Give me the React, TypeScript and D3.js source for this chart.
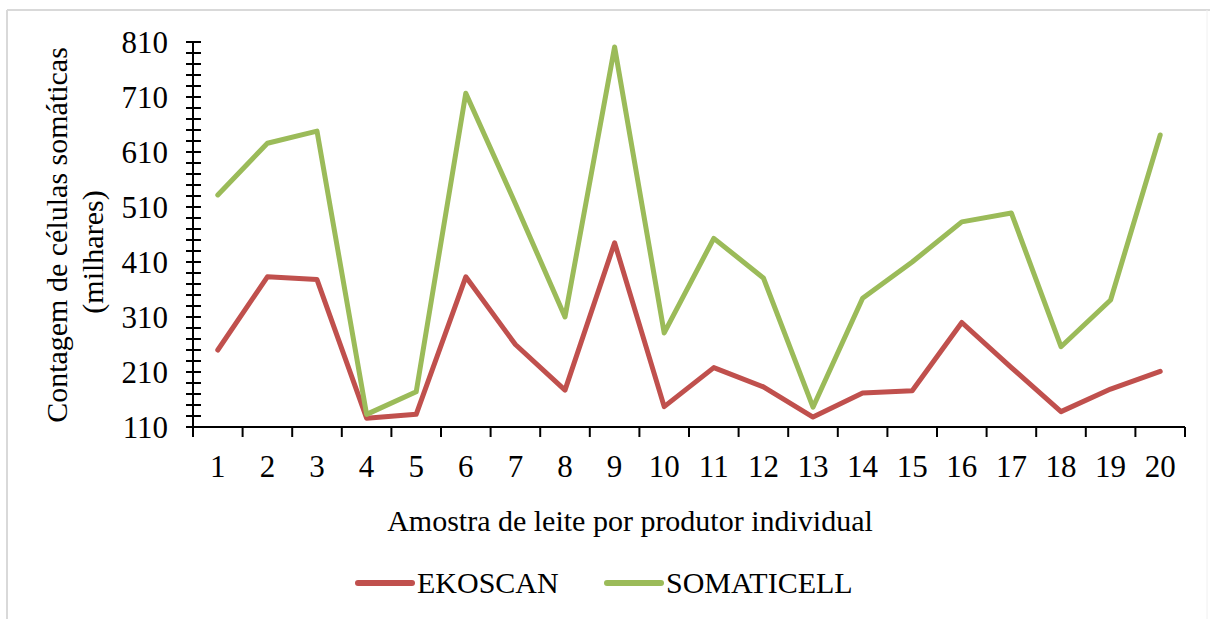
import React from "react";
import * as d3 from "d3";

const categories = ["1","2","3","4","5","6","7","8","9","10","11","12","13","14","15","16","17","18","19","20"];
const ekoscan = [250, 383, 378, 126, 133, 383, 260, 177, 445, 147, 218, 183, 128, 172, 176, 300, 218, 138, 179, 211];
const somaticell = [532, 626, 648, 133, 174, 717, 516, 310, 801, 281, 453, 381, 146, 344, 410, 483, 499, 256, 341, 641];
const yTicks = [110, 210, 310, 410, 510, 610, 710, 810];
const seriesNames = ["EKOSCAN", "SOMATICELL"];
const colors = ["#C0504D", "#9BBB59"];

const W = 1210, H = 619;
const FONT = "Liberation Serif, Times New Roman, Times, DejaVu Serif, serif";
const ts = { fontFamily: FONT } as React.CSSProperties;

export default function App() {
  const x = d3.scaleBand<string>().domain(categories).range([193, 1185]);
  const y = d3.scaleLinear().domain([110, 810]).range([427, 42]);
  const cx = (c: string) => (x(c) as number) + x.bandwidth() / 2;
  const minor = d3.range(110, 811, 20);
  const line = d3.line<number>().x((_, i) => cx(categories[i])).y((v) => y(v));
  const series = [ekoscan, somaticell];
  const bounds = [...categories.map((c) => x(c) as number), 1185];

  return (
    <svg width={W} height={H} style={{ position: "absolute", left: 0, top: 0, background: "#fff", fontFamily: FONT }}>
      <rect x={0} y={0} width={W} height={H} fill="#fff" />
      <line x1={7} x2={W} y1={10} y2={10} stroke="#d9d9d9" strokeWidth={2} />
      <line x1={7} x2={7} y1={10} y2={H} stroke="#d9d9d9" strokeWidth={2} />
      <line x1={1207} x2={1207} y1={10} y2={H} stroke="#f0f0f0" strokeWidth={1} />

      {/* y axis */}
      <line x1={193} x2={193} y1={y(810)} y2={y(110)} stroke="#000" strokeWidth={2} />
      {minor.map((v) => (
        <line key={"m" + v} x1={186} x2={201} y1={y(v)} y2={y(v)} stroke="#000" strokeWidth={2} />
      ))}
      {yTicks.map((v) => (
        <text key={"yt" + v} x={168} y={y(v)} dy="0.35em" textAnchor="end" style={ts} fontSize={31} fill="#000">
          {v}
        </text>
      ))}

      {/* x axis */}
      <line x1={193} x2={1185} y1={427} y2={427} stroke="#000" strokeWidth={2} />
      {bounds.map((b, i) => (
        <line key={"xt" + i} x1={b} x2={b} y1={427} y2={437} stroke="#000" strokeWidth={2} />
      ))}
      {categories.map((c) => (
        <text key={"xl" + c} x={cx(c)} y={477} textAnchor="middle" style={ts} fontSize={31} fill="#000">
          {c}
        </text>
      ))}

      {/* series */}
      {series.map((s, i) => (
        <path key={"s" + i} d={line(s) as string} fill="none" stroke={colors[i]} strokeWidth={5} strokeLinejoin="round" strokeLinecap="round" />
      ))}

      {/* titles */}
      <text x={630} y={531} textAnchor="middle" style={ts} fontSize={30} fill="#000">
        Amostra de leite por produtor individual
      </text>
      <text transform="translate(67,235) rotate(-90)" textAnchor="middle" style={ts} fontSize={30} fill="#000">
        Contagem de células somáticas
      </text>
      <text transform="translate(103,252) rotate(-90)" textAnchor="middle" style={ts} fontSize={30} fill="#000">
        (milhares)
      </text>

      {/* legend */}
      {seriesNames.map((n, i) => {
        const lx = i === 0 ? 358 : 607;
        return (
          <g key={"lg" + n}>
            <line x1={lx} x2={lx + 54} y1={583} y2={583} stroke={colors[i]} strokeWidth={6} strokeLinecap="round" />
            <text x={lx + 59} y={593} style={ts} fontSize={30} fill="#000">
              {n}
            </text>
          </g>
        );
      })}
    </svg>
  );
}
